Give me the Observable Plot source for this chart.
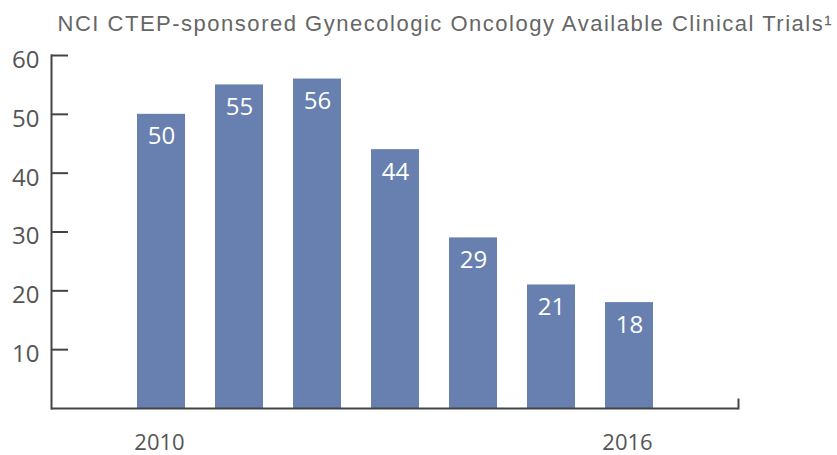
<!DOCTYPE html>
<html>
<head>
<meta charset="utf-8">
<script src="https://cdn.jsdelivr.net/npm/d3@7"></script>
<script src="https://cdn.jsdelivr.net/npm/@observablehq/plot@0.6"></script>
<style>
  html, body { margin: 0; padding: 0; background: #fff; }
  #chart svg { display: block; }
</style>
</head>
<body>
<div id="chart"></div>
<script>
const years = ["2010", "2011", "2012", "2013", "2014", "2015", "2016"];
const trials = [50, 55, 56, 44, 29, 21, 18];
const yTicks = [10, 20, 30, 40, 50, 60];
const xTickLabels = ["2010", "2016"];
const titleText = "NCI CTEP-sponsored Gynecologic Oncology Available Clinical Trials\u00B9";

const data = years.map((year, i) => ({year, value: trials[i]}));

const axisColor = "#444";
const labelColor = "#555";

const chart = Plot.plot({
  width: 837,
  height: 455,
  marginLeft: 51,
  marginRight: 99,
  marginTop: 55,
  marginBottom: 47,
  style: {fontFamily: "'Open Sans', sans-serif", background: "#fff", overflow: "visible"},
  x: {domain: years, paddingInner: 0.39, paddingOuter: 1.07, align: 0.5},
  y: {domain: [0, 60]},
  marks: [
    Plot.barY(data, {x: "year", y: "value", fill: "#6880b0"}),
    Plot.text(data, {x: "year", y: "value", text: d => String(d.value), dy: 22.4, fill: "#fff", fontSize: 24}),
    Plot.ruleY([0], {stroke: axisColor, strokeWidth: 2}),
    Plot.frame({anchor: "left", stroke: axisColor, strokeWidth: 2}),
    Plot.frame({anchor: "right", insetTop: 344, stroke: axisColor, strokeWidth: 2}),
    Plot.axisY({ticks: yTicks, tickSize: 17, dx: 17, tickFormat: () => "", color: axisColor, strokeWidth: 2, label: null}),
    Plot.axisY({ticks: yTicks, tickSize: 0, tickPadding: 12, dy: 4.7, fontSize: 24, color: labelColor, label: null}),
    Plot.axisX({ticks: xTickLabels, tickSize: 0, tickPadding: 26, dx: -2, fontSize: 22, color: labelColor, label: null}),
    Plot.text([titleText], {
      frameAnchor: "top-left", text: d => d, textAnchor: "start", lineAnchor: "middle",
      dx: 6, dy: -32, fontSize: 22, fill: "#666", fontFamily: "'Liberation Sans', Arial, sans-serif"
    })
  ]
});

document.getElementById("chart").appendChild(chart);
d3.select(chart).selectAll("text")
  .filter(function() { return this.textContent === titleText; })
  .attr("textLength", 774)
  .attr("lengthAdjust", "spacing");
</script>
</body>
</html>
